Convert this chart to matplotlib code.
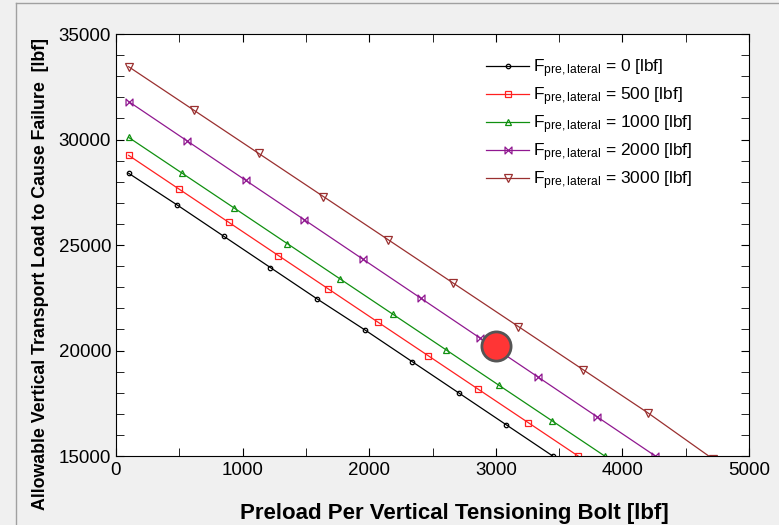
import numpy as np
import matplotlib.pyplot as plt
from matplotlib.path import Path
from matplotlib.ticker import MultipleLocator
from matplotlib.lines import Line2D

plt.rcParams['font.family'] = 'Liberation Sans'
plt.rcParams['mathtext.fontset'] = 'custom'
plt.rcParams['mathtext.rm'] = 'Liberation Sans'
plt.rcParams['mathtext.it'] = 'Liberation Sans'

# preload per bolt [lbf] and allowable load [lbf], one pair per lateral preload
x_0 = [100, 480, 850, 1220, 1590, 1970, 2340, 2710, 3080, 3450]
y_0 = [28400, 26910, 25420, 23930, 22440, 20960, 19470, 17980, 16490, 15000]
x_500 = [100, 494, 889, 1283, 1678, 2072, 2467, 2861, 3256, 3650]
y_500 = [29250, 27667, 26083, 24500, 22917, 21333, 19750, 18167, 16583, 15000]
x_1000 = [100, 518, 936, 1353, 1771, 2189, 2607, 3024, 3442, 3860]
y_1000 = [30100, 28422, 26744, 25067, 23389, 21711, 20033, 18356, 16678, 15000]
x_2000 = [100, 562, 1024, 1487, 1949, 2411, 2873, 3336, 3798, 4260]
y_2000 = [31800, 29933, 28067, 26200, 24333, 22467, 20600, 18733, 16867, 15000]
x_3000 = [100, 613, 1126, 1639, 2152, 2665, 3178, 3691, 4204, 4717]
y_3000 = [33450, 31398, 29346, 27294, 25242, 23190, 21138, 19086, 17034, 14850]

lateral = ['0', '500', '1000', '2000', '3000']
point_x = [3000]
point_y = [20200]

bowtie = Path([(-1, -1), (1, 1), (1, -1), (-1, 1), (-1, -1)],
              [Path.MOVETO, Path.LINETO, Path.LINETO, Path.LINETO, Path.CLOSEPOLY])

series = [
    (x_0, y_0, 'black', 'o', 3.2),
    (x_500, y_500, '#ff2020', 's', 4.6),
    (x_1000, y_1000, '#109010', '^', 5),
    (x_2000, y_2000, '#901890', bowtie, 5),
    (x_3000, y_3000, '#9a3030', 'v', 5.5),
]

fig = plt.figure(figsize=(7.79, 5.25), dpi=100, facecolor='#f0f0f0')
ax = fig.add_axes([0.1489, 0.1314, 0.8126, 0.8038])

for (xs, ys, c, m, ms), lab in zip(series, lateral):
    ax.plot(xs, ys, color=c, lw=0.9, marker=m, ms=ms, mfc='none', mec=c, mew=0.9,
            label=r'F$_{\mathrm{pre,lateral}}$ = ' + lab + ' [lbf]')

ax.plot(point_x, point_y, 'o', ms=21, mfc='#ff3535', mec='#555555', mew=2)

ax.set_xlim(0, 5000)
ax.set_ylim(15000, 35000)
ax.xaxis.set_major_locator(MultipleLocator(1000))
ax.xaxis.set_minor_locator(MultipleLocator(500))
ax.yaxis.set_major_locator(MultipleLocator(5000))
ax.yaxis.set_minor_locator(MultipleLocator(1000))
ax.tick_params(which='both', direction='in', top=True, right=True, labelsize=13.5)
ax.tick_params(which='major', length=6)
ax.tick_params(which='minor', length=6)
ax.tick_params(axis='x', pad=4)

ax.set_xlabel('Preload Per Vertical Tensioning Bolt [lbf]', fontsize=16, fontweight='bold')
ax.set_ylabel('Allowable Vertical Transport Load to Cause Failure  [lbf]', fontsize=12.8,
              fontweight='bold')
ax.yaxis.set_label_coords(-0.106, 0.431)
ax.xaxis.set_label_coords(0.535, -0.112)

ax.legend(loc='upper right', bbox_to_anchor=(0.935, 0.982), frameon=False, fontsize=12.5,
          handlelength=2.5, handletextpad=0.2, labelspacing=0.31)

fig.add_artist(Line2D([15.5 / 779, 15.5 / 779], [0, 1 - 3 / 525], color='#a0a0a0', lw=1))
fig.add_artist(Line2D([15.5 / 779, 1], [1 - 3 / 525, 1 - 3 / 525], color='#a0a0a0', lw=1))

fig.savefig('out.png', dpi=100, facecolor=fig.get_facecolor())
